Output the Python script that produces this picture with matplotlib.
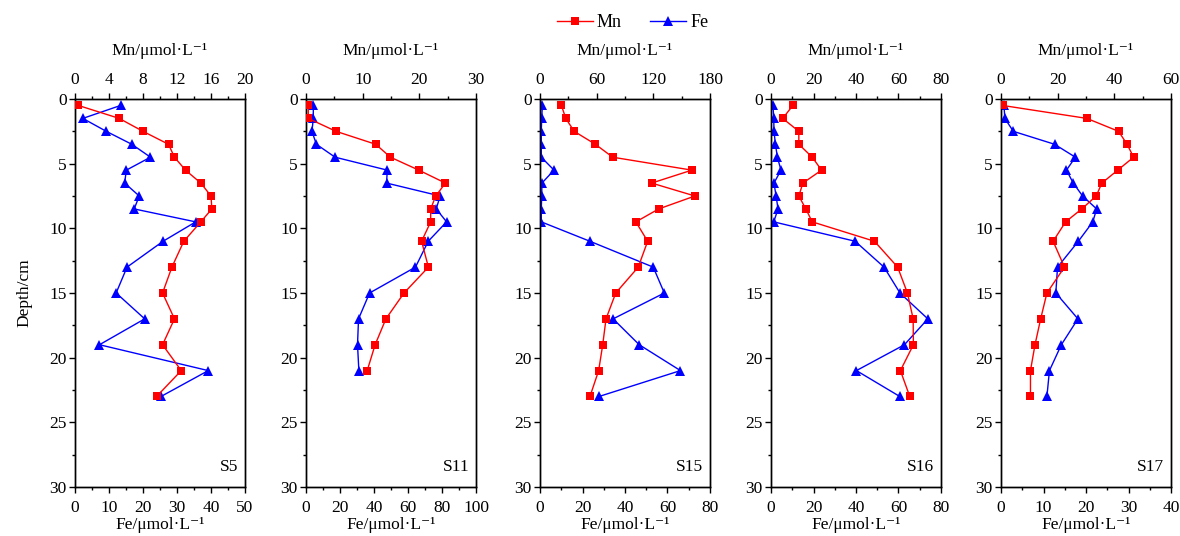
import matplotlib
matplotlib.use("Agg")
import matplotlib.pyplot as plt
from matplotlib.ticker import MultipleLocator
from matplotlib.lines import Line2D

plt.rcParams['font.family'] = ['Liberation Serif', 'DejaVu Serif']

# ---------------- data ----------------
depth_full = [0.5, 1.5, 2.5, 3.5, 4.5, 5.5, 6.5, 7.5, 8.5, 9.5, 11, 13, 15, 17, 19, 21, 23]
depth_s11 = depth_full[:-1]

stations = ['S5', 'S11', 'S15', 'S16', 'S17']

mn_s5 = [0.4, 5.2, 8.0, 11.0, 11.7, 13.0, 14.8, 16.0, 16.1, 14.8, 12.8, 11.4, 10.3, 11.7, 10.3, 12.5, 9.6]
fe_s5 = [13.4, 2.3, 9.2, 16.7, 22.2, 15.1, 14.6, 18.9, 17.4, 35.5, 25.9, 15.3, 12.1, 20.5, 7.2, 39.2, 25.3]

mn_s11 = [0.4, 0.4, 5.3, 12.3, 14.9, 19.9, 24.6, 22.9, 22.0, 22.0, 20.4, 21.6, 17.3, 14.1, 12.2, 10.8]
fe_s11 = [4.3, 4.3, 3.5, 6.1, 17.1, 47.8, 47.4, 78.9, 76.6, 82.7, 71.9, 64.4, 37.4, 30.9, 30.3, 31.1]

mn_s15 = [22.7, 27.3, 36.2, 58.6, 77.0, 160.8, 118.2, 164.0, 125.7, 101.5, 114.0, 104.0, 80.2, 69.9, 66.4, 62.1, 52.9]
fe_s15 = [1.1, 0.8, 0.6, 0.6, 0.6, 6.6, 0.9, 0.8, 0.6, 0.6, 23.5, 53.3, 58.5, 34.4, 46.7, 66.1, 27.8]

mn_s16 = [10.3, 5.5, 13.1, 13.1, 19.4, 23.8, 15.0, 13.1, 16.4, 19.4, 48.7, 59.6, 64.2, 66.9, 67.0, 60.9, 65.3]
fe_s16 = [0.9, 1.3, 1.4, 2.1, 3.0, 4.7, 1.4, 2.4, 3.3, 1.3, 39.6, 53.2, 60.7, 73.8, 62.8, 40.2, 60.6]

mn_s17 = [0.6, 30.3, 41.5, 44.5, 46.8, 41.2, 35.6, 33.6, 28.5, 22.8, 18.4, 22.4, 16.2, 14.0, 12.0, 10.4, 10.4]
fe_s17 = [0.7, 0.9, 2.9, 12.6, 17.5, 15.4, 17.0, 19.2, 22.5, 21.6, 18.2, 13.3, 12.9, 18.1, 14.2, 11.4, 10.8]

depths = [depth_full, depth_s11, depth_full, depth_full, depth_full]
mn_all = [mn_s5, mn_s11, mn_s15, mn_s16, mn_s17]
fe_all = [fe_s5, fe_s11, fe_s15, fe_s16, fe_s17]

mn_max = [20, 30, 180, 80, 60]
mn_step = [4, 10, 60, 20, 20]
fe_max = [50, 100, 80, 80, 40]
fe_step = [10, 20, 20, 20, 10]

depth_ticks = [0, 5, 10, 15, 20, 25, 30]

# ---------------- figure ----------------
W, H = 1180, 536
fig = plt.figure(figsize=(W / 100, H / 100), dpi=100)

lefts_px = [75, 306, 540, 771, 1001]
ax_w_px = 170
top_px, bot_px = 99, 487

FS = 12.5
red = '#FF0000'
blue = '#0000FF'

mn_label = 'Mn/μmol·L⁻¹'
fe_label = 'Fe/μmol·L⁻¹'

for i in range(5):
    l = lefts_px[i] / W
    b = 1 - bot_px / H
    h = (bot_px - top_px) / H
    ax = fig.add_axes([l, b, ax_w_px / W, h])
    axt = ax.twiny()

    ax.plot(fe_all[i], depths[i], color=blue, lw=1.0, marker='^', ms=7.5,
            markeredgewidth=0, zorder=3)
    axt.plot(mn_all[i], depths[i], color=red, lw=1.0, marker='s', ms=6.2,
             markeredgewidth=0, zorder=3)

    ax.set_ylim(30, 0)
    ax.set_xlim(0, fe_max[i])
    axt.set_xlim(0, mn_max[i])

    ax.set_yticks(depth_ticks)
    ax.yaxis.set_minor_locator(MultipleLocator(2.5))
    ax.xaxis.set_major_locator(MultipleLocator(fe_step[i]))
    ax.xaxis.set_minor_locator(MultipleLocator(fe_step[i] / 2))
    axt.xaxis.set_major_locator(MultipleLocator(mn_step[i]))
    axt.xaxis.set_minor_locator(MultipleLocator(mn_step[i] / 2))

    for a in (ax, axt):
        a.tick_params(which='major', direction='out', length=4, width=1,
                      labelsize=FS, pad=3)
        a.tick_params(which='minor', direction='out', length=2.5, width=1)
        for s in a.spines.values():
            s.set_linewidth(1.0)
            s.set_color('black')
    ax.tick_params(axis='y', which='both', right=False, pad=2)
    ax.tick_params(axis='x', which='major', pad=5)
    axt.tick_params(axis='x', which='major', pad=4)

    ax.set_xlabel(fe_label, fontsize=FS, labelpad=1)
    axt.set_xlabel(mn_label, fontsize=FS, labelpad=12)
    if i == 0:
        ax.set_ylabel('Depth/cm', fontsize=FS, labelpad=12)

    ax.text(0.96, 0.03, stations[i], transform=ax.transAxes, ha='right',
            va='bottom', fontsize=FS)

handles = [Line2D([], [], color=red, marker='s', ms=6.2, lw=1.0, markeredgewidth=0),
           Line2D([], [], color=blue, marker='^', ms=7.5, lw=1.0, markeredgewidth=0)]
fig.legend(handles, ['Mn', 'Fe'], loc='center', bbox_to_anchor=(0.536, 1 - 23 / H),
           ncol=2, frameon=False, fontsize=FS + 0.5, handlelength=2.0,
           handletextpad=0.2, columnspacing=1.6)

fig.savefig('out.png', dpi=100)
